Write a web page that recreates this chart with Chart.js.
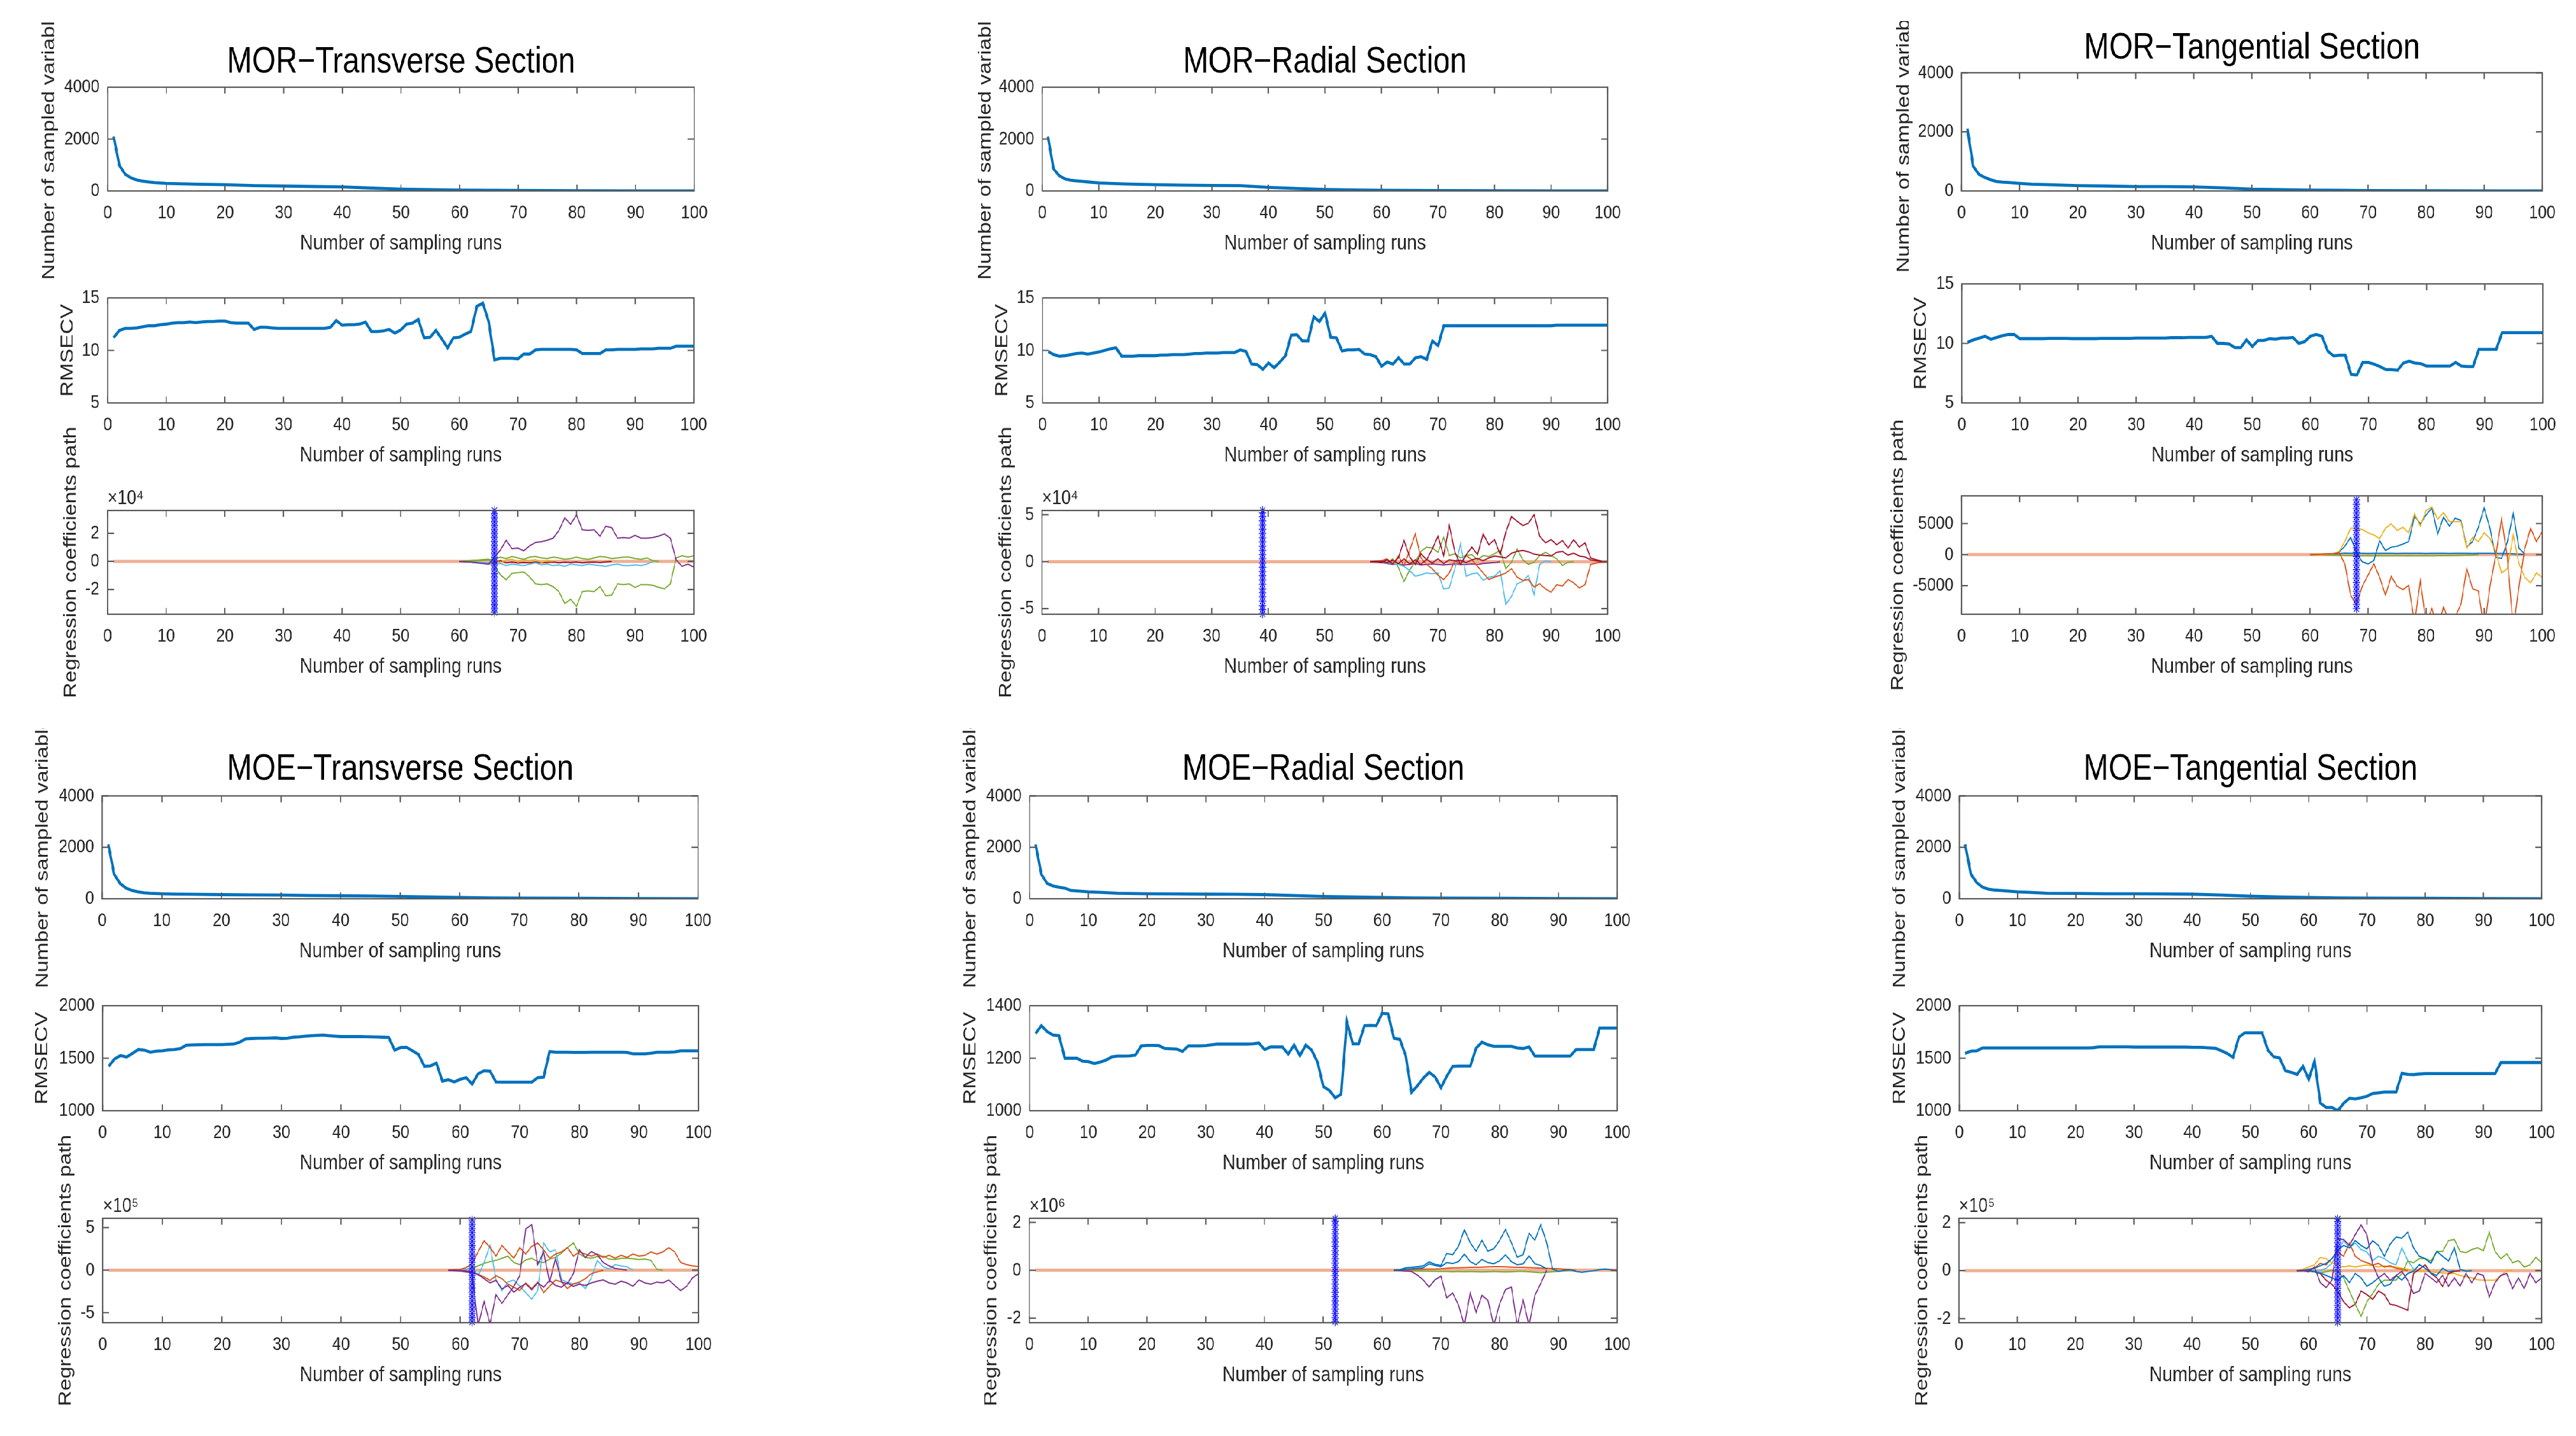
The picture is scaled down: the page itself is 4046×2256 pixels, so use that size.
<!DOCTYPE html>
<html>
<head>
<meta charset="utf-8">
<title>CARS sampling runs - MOR and MOE</title>
<script src="https://cdn.jsdelivr.net/npm/chart.js@4/dist/chart.umd.min.js"></script>
<style>
  html, body { margin: 0; padding: 0; background: #ffffff; overflow: hidden; }
  /* the source figure is squeezed horizontally, so the whole page is drawn wider and squeezed back */
  #figure { position: absolute; left: 0; top: 0; width: 4846px; height: 2256px; transform: scaleX(0.835); transform-origin: 0 0; }
  #figure canvas { position: absolute; }
</style>
</head>
<body>
<div id="figure"></div>
<script>
'use strict';

// Data ********** //
const runs = Array.from({ length: 100 }, (_, i) => i + 1);
const xTicks = [0, 10, 20, 30, 40, 50, 60, 70, 80, 90, 100];

// number of sampled variables (read at these runs)
const sampledRuns = [1, 2, 3, 4, 5, 6, 7, 8, 10, 12, 15, 20, 25, 30, 35, 40, 45, 50, 55, 60, 65, 70, 80, 90, 100];
const sampledTicks = [0, 2000, 4000];
const morTransSampled = [2100, 980, 640, 500, 420, 380, 345, 320, 293, 280, 262, 241, 205, 190, 172, 155, 110, 69, 50, 34, 25, 18, 10, 5, 2];
const morRadSampled = [2100, 850, 590, 465, 414, 390, 370, 350, 310, 290, 268, 241, 225, 212, 205, 140, 95, 55, 40, 30, 22, 16, 9, 5, 2];
const morTanSampled = [2105, 833, 560, 455, 380, 320, 300, 288, 258, 227, 212, 182, 167, 150, 150, 136, 106, 60, 45, 30, 22, 15, 8, 4, 2];
const moeTransSampled = [2117, 950, 592, 413, 323, 270, 233, 215, 197, 185, 178, 161, 152, 143, 126, 117, 108, 90, 72, 54, 36, 27, 18, 9, 2];
const moeRadSampled = [2117, 950, 592, 500, 448, 413, 323, 305, 270, 251, 215, 197, 188, 180, 178, 161, 126, 90, 72, 54, 36, 27, 18, 9, 2];
const moeTanSampled = [2117, 950, 628, 448, 377, 340, 323, 305, 270, 251, 215, 206, 197, 195, 188, 180, 143, 99, 72, 54, 36, 27, 18, 9, 2];

// RMSECV for runs 1..100
const morRmsecvTicks = [5, 10, 15];
const morRmsecvRange = [5, 15];
const moeRmsecvTicks = [1000, 1500, 2000];
const moeRmsecvRange = [1000, 2000];
const moeRadRmsecvTicks = [1000, 1200, 1400];
const moeRadRmsecvRange = [1000, 1400];

const morTransRmsecv = [
  11.2, 11.9, 12.1, 12.1, 12.15, 12.25, 12.35, 12.35, 12.45, 12.5,
  12.6, 12.65, 12.65, 12.7, 12.65, 12.7, 12.75, 12.75, 12.8, 12.8,
  12.65, 12.6, 12.6, 12.6, 12.0, 12.2, 12.2, 12.15, 12.1, 12.1,
  12.1, 12.1, 12.1, 12.1, 12.1, 12.1, 12.1, 12.2, 12.85, 12.4,
  12.45, 12.45, 12.5, 12.7, 11.8, 11.8, 11.85, 12.0, 11.65, 11.95,
  12.5, 12.6, 12.95, 11.2, 11.25, 11.9, 11.1, 10.25, 11.2, 11.25,
  11.55, 11.8, 14.2, 14.5, 12.75, 9.1, 9.25, 9.25, 9.25, 9.2,
  9.65, 9.65, 10.05, 10.1, 10.1, 10.1, 10.1, 10.1, 10.1, 10.05,
  9.7, 9.7, 9.7, 9.7, 10.05, 10.05, 10.1, 10.1, 10.1, 10.1,
  10.15, 10.15, 10.15, 10.2, 10.2, 10.2, 10.4, 10.4, 10.4, 10.4
];
const morRadRmsecv = [
  9.9, 9.6, 9.45, 9.5, 9.6, 9.7, 9.75, 9.65, 9.75, 9.85,
  10.0, 10.15, 10.25, 9.45, 9.45, 9.45, 9.5, 9.5, 9.5, 9.5,
  9.55, 9.55, 9.6, 9.6, 9.6, 9.65, 9.7, 9.7, 9.75, 9.75,
  9.75, 9.8, 9.8, 9.8, 10.05, 9.9, 8.7, 8.65, 8.2, 8.8,
  8.35, 8.9, 9.5, 11.45, 11.5, 10.9, 10.9, 13.2, 12.75, 13.55,
  11.25, 11.2, 9.95, 10.05, 10.05, 10.1, 9.65, 9.6, 9.4, 8.5,
  8.9, 8.7, 9.3, 8.7, 8.7, 9.3, 9.4, 9.15, 10.9, 10.45,
  12.35, 12.35, 12.35, 12.35, 12.35, 12.35, 12.35, 12.35, 12.35, 12.35,
  12.35, 12.35, 12.35, 12.35, 12.35, 12.35, 12.35, 12.35, 12.35, 12.35,
  12.4, 12.4, 12.4, 12.4, 12.4, 12.4, 12.4, 12.4, 12.4, 12.4
];
const morTanRmsecv = [
  10.1, 10.3, 10.45, 10.6, 10.35, 10.5, 10.65, 10.75, 10.75, 10.4,
  10.4, 10.4, 10.4, 10.4, 10.42, 10.42, 10.42, 10.42, 10.4, 10.4,
  10.4, 10.4, 10.4, 10.42, 10.42, 10.42, 10.42, 10.42, 10.42, 10.45,
  10.45, 10.45, 10.45, 10.45, 10.45, 10.48, 10.48, 10.48, 10.5, 10.5,
  10.5, 10.5, 10.6, 10.0, 10.0, 9.95, 9.65, 9.65, 10.3, 9.75,
  10.25, 10.25, 10.4, 10.35, 10.45, 10.45, 10.5, 10.0, 10.15, 10.6,
  10.75, 10.6, 9.35, 8.95, 9.0, 9.0, 7.4, 7.35, 8.4, 8.4,
  8.25, 8.05, 7.8, 7.8, 7.75, 8.35, 8.5, 8.35, 8.3, 8.1,
  8.1, 8.1, 8.1, 8.1, 8.4, 8.1, 8.05, 8.05, 9.5, 9.5,
  9.5, 9.5, 10.9, 10.9, 10.9, 10.9, 10.9, 10.9, 10.9, 10.9
];
const moeTransRmsecv = [
  1423, 1494, 1526, 1511, 1546, 1583, 1577, 1557, 1567, 1571,
  1580, 1583, 1592, 1623, 1627, 1628, 1629, 1629, 1630, 1630,
  1632, 1635, 1653, 1684, 1688, 1690, 1690, 1692, 1694, 1688,
  1690, 1700, 1704, 1710, 1715, 1718, 1720, 1715, 1710, 1706,
  1706, 1706, 1706, 1705, 1704, 1702, 1700, 1698, 1577, 1602,
  1604, 1571, 1536, 1423, 1427, 1454, 1282, 1295, 1274, 1299,
  1315, 1254, 1351, 1381, 1377, 1274, 1272, 1272, 1272, 1272,
  1272, 1272, 1315, 1320, 1563, 1557, 1557, 1557, 1555, 1555,
  1555, 1557, 1557, 1557, 1557, 1557, 1557, 1555, 1542, 1542,
  1542, 1548, 1557, 1557, 1557, 1560, 1571, 1571, 1571, 1571
];
const moeRadRmsecv = [
  1294, 1324, 1301, 1288, 1286, 1200, 1200, 1200, 1189, 1187,
  1180, 1185, 1193, 1205, 1208, 1208, 1209, 1212, 1247, 1249,
  1249, 1248, 1237, 1236, 1235, 1226, 1247, 1247, 1247, 1248,
  1251, 1254, 1254, 1254, 1254, 1254, 1254, 1255, 1258, 1233,
  1243, 1243, 1243, 1216, 1250, 1210, 1250, 1231, 1185, 1092,
  1078, 1049, 1063, 1338, 1255, 1255, 1324, 1325, 1324, 1371,
  1369, 1276, 1272, 1210, 1070, 1095, 1124, 1146, 1129, 1088,
  1132, 1169, 1170, 1170, 1170, 1239, 1261, 1251, 1245, 1245,
  1245, 1245, 1239, 1237, 1243, 1208, 1208, 1208, 1208, 1208,
  1208, 1208, 1233, 1233, 1233, 1233, 1315, 1315, 1315, 1315
];
const moeTanRmsecv = [
  1546, 1567, 1571, 1598, 1598, 1598, 1598, 1598, 1598, 1598,
  1598, 1598, 1598, 1598, 1598, 1598, 1598, 1598, 1598, 1598,
  1598, 1598, 1600, 1608, 1608, 1608, 1608, 1608, 1608, 1606,
  1606, 1606, 1606, 1606, 1606, 1606, 1606, 1606, 1606, 1604,
  1604, 1602, 1598, 1594, 1571, 1546, 1509, 1700, 1742, 1742,
  1742, 1742, 1577, 1513, 1503, 1381, 1365, 1346, 1423, 1299,
  1472, 1072, 1031, 1031, 1000, 1072, 1119, 1113, 1124, 1138,
  1165, 1171, 1178, 1178, 1178, 1356, 1346, 1344, 1350, 1354,
  1354, 1354, 1354, 1354, 1354, 1354, 1354, 1354, 1354, 1354,
  1354, 1354, 1459, 1459, 1459, 1459, 1459, 1459, 1459, 1459
];

// regression coefficient paths (flat at zero before the start run)
const zeroPathRuns = [1, 100];
const zeroPathValues = [0, 0];

// MOR transverse, x10^4, runs from 60
const morTransCoefTicks = [-2, 0, 2];
const morTransCoefRange = [-3.76, 3.62];
const morTransBest = 66;
const morTransStars = [-3.62, -3.35, -3.08, -2.8, -2.52, -2.25, -1.97, -1.7, -1.4, -1.12, -0.85, -0.55, -0.28, 0.02, 0.3, 0.58, 0.86, 1.15, 1.42, 1.7, 1.98, 2.26, 2.55, 2.82, 3.1, 3.4, 3.62];
const morTransPathStart = 60;
const morTransPurple = [0, -0.02, -0.05, -0.1, -0.15, -0.2, 0.3, 0.8, 1.5, 0.9, 0.95, 0.75, 1.1, 1.35, 1.4, 1.5, 1.65, 2.2, 3.1, 2.65, 3.3, 2.25, 2.2, 2.25, 1.8, 2.5, 2.4, 1.65, 1.7, 1.65, 1.85, 1.65, 1.65, 1.7, 1.8, 1.95, 1.65, 0.1, -0.35, -0.2, -0.4];
const morTransGreen = [0, 0.02, 0.05, 0.08, 0.12, 0.15, -0.3, -0.95, -1.3, -0.85, -0.8, -0.75, -1.1, -1.6, -1.65, -1.6, -1.8, -2.15, -3.0, -2.7, -3.2, -2.15, -2.1, -2.15, -1.8, -2.45, -2.4, -1.6, -1.65, -1.6, -1.85, -1.65, -1.65, -1.7, -1.85, -1.95, -1.6, 0.25, 0.4, 0.3, 0.4];
const morTransGreen2 = [0, 0.02, 0.04, 0.06, 0.08, 0.1, 0.15, 0.3, 0.2, 0.35, 0.25, 0.15, 0.3, 0.35, 0.25, 0.2, 0.3, 0.25, 0.15, 0.2, 0.3, 0.2, 0.15, 0.25, 0.35, 0.3, 0.2, 0.25, 0.3, 0.3, 0.2, 0.15, 0.25, 0.05, 0];
const morTransCyan = [0, -0.02, -0.04, -0.06, -0.08, -0.1, -0.2, -0.15, -0.3, -0.2, -0.25, -0.3, -0.2, -0.1, -0.25, -0.2, -0.3, -0.25, -0.35, -0.2, -0.25, -0.3, -0.2, -0.25, -0.3, -0.35, -0.25, -0.2, -0.3, -0.3, -0.25, -0.3, -0.2, 0];
const morTransYellow = [0, 0.02, 0.05, 0.08, 0.12, 0.15, 0.1, -0.1, 0.1, 0.15, -0.05, 0.1, 0.05, 0.12, -0.08, 0.05, 0];
const morTransRed = [0, -0.02, -0.05, -0.08, -0.12, -0.18, -0.1, 0.05, -0.1, -0.05, -0.12, -0.08, -0.1, -0.05, -0.1, -0.08, -0.05, -0.1, -0.06, -0.08, -0.05, -0.1, -0.06, -0.05, -0.08, -0.04, 0];

// MOR radial, x10^4, runs from 58
const morRadCoefTicks = [-5, 0, 5];
const morRadCoefRange = [-5.6, 5.45];
const morRadBest = 39;
const morRadStars = [-5.55, -5.1, -4.7, -4.2, -3.75, -3.3, -2.9, -2.4, -1.95, -1.5, -1.05, -0.6, -0.15, 0.3, 0.75, 1.2, 1.65, 2.1, 2.55, 3.0, 3.45, 3.9, 4.35, 4.8, 5.2, 5.45];
const morRadPathStart = 58;
const morRadRed = [0, 0.05, -0.1, 0.2, -0.2, 0.4, 2.25, 0.5, -0.3, 0.85, 0.2, 1.35, 2.7, 0.65, 3.85, 1.0, -0.3, 0.75, 1.55, 0.75, 2.95, 1.8, 2.35, 0.75, 3.15, 4.8, 4.3, 3.85, 4.1, 5.0, 2.7, 2.0, 2.35, 1.8, 2.25, 1.45, 2.35, 1.55, 2.0, 0.4, 0.2, 0.05, 0];
const morRadRed2 = [0, 0, 0.05, -0.1, 0.15, -0.2, 0.3, -0.25, 0.2, -0.3, 0.25, -0.15, 0.3, -0.2, 0.2, 0.1, 0.15, -0.1, 0.2, 0.35, 0.1, 0.4, 0.6, 0.5, 0.4, 0.9, 1.1, 1.2, 1.05, 0.8, 0.7, 0.65, 0.6, 1.0, 1.1, 0.7, 0.9, 0.6, 0.5, 0.2, 0.1, 0, 0];
const morRadOrange = [0, 0.05, 0.1, 0.3, -0.3, 0.6, -0.4, 1.2, 2.95, 0.4, -0.3, -0.75, -1.45, -1.9, -1.2, 0.1, -0.3, 0.65, 0.2, -0.5, -1.2, -1.9, -1.65, -1.45, -1.2, -0.75, -1.65, -2.0, -1.9, -2.7, -2.35, -2.9, -3.25, -2.45, -2.6, -1.9, -2.25, -2.8, -2.45, -0.3, -0.15, -0.05, 0];
const morRadCyan = [0, 0, -0.05, -0.1, -0.2, -0.3, -0.5, -0.95, -1.55, -1.4, -1.2, -1.3, -1.2, -2.9, -2.8, -0.7, 1.9, -1.55, -1.3, -1.2, -2.0, -1.65, -1.55, -0.95, -4.55, -3.7, -2.35, -2.1, -1.45, -3.5, -0.3, 0.1, 0];
const morRadGreen = [0, 0.05, 0.1, -0.2, 0.3, -0.6, -2.1, -0.9, 0, 1.1, 1.55, 1.45, 1.0, 2.6, 0.65, 0.85, 0.4, 0.65, 0.75, 0.2, 0.65, 0.55, 0.85, 1.2, -0.75, -0.05, 1.35, 0.2, -0.3, -0.05, 0.65, 1.0, 0.65, 0.3, -0.4, -0.05, 0];
const morRadPurple = [0, -0.05, -0.1, -0.2, -0.3, -0.25, -0.35, -0.3, -0.2, -0.35, -0.3, -0.25, -0.3, -0.35, -0.3, -0.25, -0.3, -0.3, -0.25, -0.3, -0.2, -0.15, -0.1, 0];

// MOR tangential, plain units, runs from 60
const morTanCoefTicks = [-5000, 0, 5000];
const morTanCoefRange = [-9600, 9460];
const morTanBest = 68;
const morTanStars = [-8700, -8000, -7300, -6600, -5900, -5200, -4500, -3800, -3100, -2400, -1700, -1000, -300, 400, 1100, 1800, 2500, 3200, 3900, 4600, 5300, 6000, 6700, 7400, 8100, 8800];
const morTanPathStart = 60;
const morTanOrange = [0, 30, 60, 100, 150, 300, -1500, -6550, -8000, -5100, -3300, -1500, -3650, -6550, -3500, -5100, -5650, -4950, -11000, -4200, -11000, -8700, -12000, -8350, -11000, -10000, -8000, -2250, -5500, -5850, -12000, -5100, -100, 5700, -450, -12000, -5100, 1000, 4250, 2100, 3700];
const morTanYellow = [0, -20, -40, 50, 100, 500, 2100, 4250, 4250, 4050, 3500, 3150, 2600, 4250, 4950, 3900, 4400, 3500, 6600, 4600, 7100, 7650, 5700, 6800, 5300, 5300, 5300, 1000, 2800, 2100, 3500, 2600, 450, -2950, -2250, 3150, -1500, -3650, -4550, -2950, -3650];
const morTanBlue = [0, 20, 40, 80, 150, 400, 1350, 2800, 300, -1150, -1500, -950, 2250, 650, 1200, 1350, 1700, 2100, 6200, 4950, 6400, 7500, 3350, 6050, 4600, 5850, 5500, 1200, 2100, 4400, 7500, 4250, -450, -600, 2100, 6600, 1000, 100];
const morTanBlue2 = [0, 10, 30, 60, 100, 150, 250, 220, 200, 210, 190, 200, 220, 210, 200, 190, 210, 200, 220, 200, 190, 210, 200, 200, 190, 210, 220, 200, 190, 200, 210, 200, 190, 180, 150, 100, 50, 0];
const morTanGreen = [0, -20, -40, -60, -90, -120, -150, -180, -200, -190, -210, -200, -180, -200, -210, -190, -200, -180, -200, -210, -190, -200, -180, -170, -160, -150, -120, -80, -40, 0];

// MOE transverse, x10^5, runs from 58
const moeTransCoefTicks = [-5, 0, 5];
const moeTransCoefRange = [-6.18, 6.1];
const moeTransBest = 62;
const moeTransStars = [-6.1, -5.6, -5.1, -4.6, -4.1, -3.6, -3.1, -2.6, -2.1, -1.6, -1.1, -0.6, -0.1, 0.4, 0.9, 1.4, 1.9, 2.4, 2.9, 3.4, 3.9, 4.4, 4.9, 5.4, 5.9];
const moeTransPathStart = 58;
const moeTransPurple = [0, -0.05, -0.1, -0.2, -0.3, -6.5, -3.7, -6.3, -2.9, -3.9, -2.9, -1.9, -0.65, 4.85, 5.35, 0.65, 2.15, -1.4, 1.4, -1.4, -1.6, -0.4, 2.4, 1.5, 2.2, 1.8, 0.9, 0.5, 0.2, 0.1, 0];
const moeTransPurple2 = [0, 0, -0.05, -0.1, -0.2, -0.5, -1.0, -1.5, -1.2, -2.2, -1.8, -2.6, -2.0, -1.6, -2.3, -1.5, -2.0, -1.2, -1.8, -2.0, -1.5, -1.9, -1.65, -1.8, -1.5, -1.3, -1.15, -1.5, -1.65, -1.3, -1.5, -1.9, -1.15, -1.5, -1.65, -1.4, -1.5, -1.15, -1.8, -2.4, -1.9, -0.9, -0.4];
const moeTransOrange = [0, 0.05, 0.1, 0.3, 0.8, 2.15, 3.45, 2.7, 1.65, 2.9, 2.15, 1.4, 2.65, 1.9, 2.8, 3.2, 2.4, 1.4, 1.9, 2.15, 2.65, 1.65, 2.15, 1.9, 1.65, 1.9, 1.5, 1.75, 1.4, 1.75, 1.5, 1.9, 1.65, 1.75, 2.15, 1.9, 2.15, 2.65, 2.15, 0.9, 0.65, 0.5, 0.4];
const moeTransOrange2 = [0, 0, -0.05, -0.1, -0.3, -0.5, -0.8, -1.2, -0.65, -1.0, -1.65, -2.0, -2.4, -1.5, -2.15, -1.4, -2.65, -1.9, -1.15, -1.4, -2.15, -1.6, -1.4, -1.0, -0.4, -0.2, 0];
const moeTransCyan = [0, 0, 0.05, 0.1, 0.3, -0.65, 0.9, 2.9, -1.15, -2.4, -1.4, -1.15, -1.9, -2.65, -3.4, -2.4, 3.2, 2.15, 2.4, -1.15, -1.4, -1.65, -1.5, -2.15, -0.9, 1.15, 0.4, 0.15, 0.65, 0.5, 0.4, 0];
const moeTransGreen = [0, 0, 0.05, 0.1, 0.2, 0.5, 0.8, 1.0, 1.15, 1.4, 1.65, 0.9, 0.65, 1.2, 1.4, 1.0, 0.9, 1.3, 1.5, 2.0, 2.65, 3.2, 1.9, 1.5, 1.4, 1.6, 1.65, 1.3, 1.25, 1.4, 1.4, 1.35, 1.25, 1.3, 1.15, 0.1, 0];

// MOE radial, x10^6, runs from 62
const moeRadCoefTicks = [-2, 0, 2];
const moeRadCoefRange = [-2.19, 2.17];
const moeRadBest = 52;
const moeRadStars = [-2.15, -1.98, -1.8, -1.62, -1.45, -1.28, -1.1, -0.92, -0.75, -0.58, -0.4, -0.22, -0.05, 0.12, 0.3, 0.48, 0.65, 0.82, 1.0, 1.18, 1.35, 1.52, 1.7, 1.88, 2.05, 2.15];
const moeRadPathStart = 62;
const moeRadBlue = [0, 0.02, 0.1, 0.12, 0.15, 0.18, 0.35, 0.25, 0.2, 0.7, 0.65, 1.0, 1.7, 1.15, 0.8, 1.25, 0.8, 0.9, 1.25, 1.7, 1.15, 0.55, 0.65, 1.55, 1.25, 1.9, 1.15, 0.05, -0.05, 0, 0.02, -0.05, -0.08, -0.05, -0.02, 0.03, 0.05, 0.02, -0.03];
const moeRadBlue2 = [0, 0.01, 0.05, 0.06, 0.08, 0.1, 0.27, 0.2, 0.15, 0.32, 0.28, 0.36, 0.68, 0.36, 0.23, 0.45, 0.32, 0.27, 0.4, 0.64, 0.36, 0.23, 0.27, 0.6, 0.27, 0.2, 0.05];
const moeRadPurple = [0, -0.01, -0.03, -0.05, -0.2, -0.4, -0.7, -0.4, -0.25, -1.15, -0.95, -1.45, -2.3, -0.95, -1.75, -1.05, -1.25, -2.3, -1.4, -0.8, -0.7, -2.3, -1.25, -2.3, -1.05, -0.55, 0];
const moeRadOrange = [0, 0.01, 0.02, 0.03, 0.03, 0.04, 0.05, 0.05, 0.06, 0.08, 0.1, 0.1, 0.11, 0.12, 0.12, 0.13, 0.14, 0.15, 0.15, 0.14, 0.13, 0.12, 0.12, 0.11, 0.1, 0.09, 0.08, 0.07, 0.06, 0.04, 0.02, 0];
const moeRadGreen = [0, -0.01, -0.02, -0.02, -0.03, -0.03, -0.04, -0.04, -0.05, -0.05, -0.06, -0.05, -0.06, -0.05, -0.06, -0.07, -0.06, -0.05, -0.06, -0.07, -0.06, -0.05, -0.05, -0.06, -0.08, -0.1, -0.08, -0.06, -0.04, -0.02, 0];

// MOE tangential, x10^5, runs from 58
const moeTanCoefTicks = [-2, 0, 2];
const moeTanCoefRange = [-2.17, 2.18];
const moeTanBest = 65;
const moeTanStars = [-2.15, -1.97, -1.8, -1.63, -1.45, -1.27, -1.1, -0.93, -0.75, -0.57, -0.4, -0.23, -0.05, 0.13, 0.3, 0.47, 0.65, 0.83, 1.0, 1.17, 1.35, 1.53, 1.7, 1.87, 2.05, 2.15];
const moeTanPathStart = 58;
const moeTanPurple = [0, 0.02, -0.05, 0.15, -0.5, -0.7, -0.4, 1.3, 1.3, 1.05, 1.5, 1.9, 1.5, 0.25, -0.3, -0.12, -0.4, -0.2, -0.03, -0.4, -0.95, -0.85, -0.12, -0.3, -0.5, -0.2, -0.65, -0.3, -0.65, -0.12, -0.5, -0.12, -0.2, -1.1, -0.5, -0.2, -0.12, -0.75, -0.3, -0.75, -0.12, -0.5, -0.3];
const moeTanBlue = [0, 0, 0.05, 0.1, 0.2, 0.3, 0.5, 0.85, 1.05, 0.95, 1.25, 1.05, 0.9, 1.25, 1.05, 0.6, 1.1, 1.4, 1.35, 1.6, 0.95, 0.6, 0.5, 0.3, 0.8, 0.6, 0.4, 0.95, 0.05, -0.02, 0];
const moeTanBlue2 = [0, 0, 0, -0.05, -0.1, -0.2, -0.3, -0.4, -0.2, -0.5, -0.12, -0.3, -0.65, -0.5, -0.3, -0.65, -0.57, -0.2, -0.4, -0.12, -0.03, 0.25, 0.1, -0.1, -0.2, 0.1, -0.05, 0];
const moeTanGreen = [0, 0, -0.02, -0.05, -0.1, -0.05, 0.02, 0, -0.3, -0.85, -1.4, -1.9, -1.3, -0.95, -0.57, -0.4, -0.4, -0.4, -0.12, 0.4, 0.33, 0.5, 0.5, 0.4, 0.8, 0.8, 1.25, 1.3, 0.8, 0.75, 0.88, 0.95, 0.83, 1.6, 0.8, 0.5, 0.7, 0.33, 0.42, 0.15, 0.24, 0.55, 0.33];
const moeTanRed = [0, 0, 0.02, -0.05, -0.12, -0.4, -0.57, -0.85, -1.3, -1.55, -1.4, -0.85, -1.0, -1.2, -0.85, -1.0, -1.4, -1.45, -1.55, -1.65, -0.12, 0.06, 0.24, -0.12, -0.3, -0.66, -0.12, -0.03, 0];
const moeTanOrange = [0, 0.02, 0.05, 0.1, 0.3, 0.24, 0.5, 0.78, 0.6, 1.15, 0.6, 0.42, 0.33, 0.24, 0.3, 0.15, 0.2, 0.1, 0.05, 0];
const moeTanYellow = [0, 0.05, 0.15, 0.24, 0.55, 0.5, 0.33, 0.24, 0.15, 0.2, 0.15, 0.2, 0.24, 0.2, 0.15, 0.2, 0.15, 0.15, 0.1, 0.05, 0, -0.02, -0.03, -0.05, -0.08, -0.1, -0.12, -0.12, -0.2, -0.25, -0.3, -0.38, -0.4, -0.4, -0.4, -0.2, 0, 0.02];
const moeTanCyan = [0, 0, 0, 0, 0, 0.1, 0.3, 0.8, 1.25, 0.95, 1.15, 0.88, 0.78, 0.42, 0.6, 0.5, 0.33, 0.24, 0.95, 0.42, 0.06, 0];

// Styles********** //
const SQUEEZE = 0.835;
const FONT = "'Liberation Sans', Arial, Helvetica, sans-serif";
const TEXT_COLOR = '#262626';
const AXIS_COLOR = '#5a5a5a';
const LINE_BLUE = '#0072BD';
const BLUE = '#0072BD';
const ORANGE = '#D95319';
const YELLOW = '#EDB120';
const PURPLE = '#7E2F8E';
const GREEN = '#77AC30';
const CYAN = '#4DBEEE';
const DARKRED = '#A2142F';

// plot boxes, in page pixels (x before the squeeze is undone)
const ROW_A = [[137, 299.5], [467.5, 632], [801.5, 964.5]];
const ROW_C = [[114.3, 299.5], [446, 632.5], [779, 965]];
const ROW_B = [[1250.4, 1412], [1580, 1744.5], [1913.5, 2077]];

const panels = [
  {
    title: 'MOR\u2212Transverse Section', sampled: morTransSampled,
    rmsecv: morTransRmsecv, rmsecvTicks: morRmsecvTicks, rmsecvRange: morRmsecvRange,
    coefTicks: morTransCoefTicks, coefRange: morTransCoefRange, multiplier: '\u00d710\u2074',
    best: morTransBest, stars: morTransStars, pathStart: morTransPathStart,
    paths: [[morTransPurple, PURPLE], [morTransGreen, GREEN], [morTransGreen2, GREEN], [morTransCyan, CYAN], [morTransYellow, YELLOW], [morTransRed, DARKRED]],
    box: { left: 169, right: 1090, clip: 33, titleY: 98.5, rows: ROW_A, labelX: [77, 106.3, 111.5] }
  },
  {
    title: 'MOR\u2212Radial Section', sampled: morRadSampled,
    rmsecv: morRadRmsecv, rmsecvTicks: morRmsecvTicks, rmsecvRange: morRmsecvRange,
    coefTicks: morRadCoefTicks, coefRange: morRadCoefRange, multiplier: '\u00d710\u2074',
    best: morRadBest, stars: morRadStars, pathStart: morRadPathStart,
    paths: [[morRadRed, DARKRED], [morRadRed2, DARKRED], [morRadOrange, ORANGE], [morRadCyan, CYAN], [morRadGreen, GREEN], [morRadPurple, PURPLE]],
    box: { left: 1637, right: 2525, clip: 33, titleY: 98.5, rows: ROW_A, labelX: [1547.5, 1573.9, 1580.5] }
  },
  {
    title: 'MOR\u2212Tangential Section', sampled: morTanSampled,
    rmsecv: morTanRmsecv, rmsecvTicks: morRmsecvTicks, rmsecvRange: morRmsecvRange,
    coefTicks: morTanCoefTicks, coefRange: morTanCoefRange, multiplier: null,
    best: morTanBest, stars: morTanStars, pathStart: morTanPathStart,
    paths: [[morTanOrange, ORANGE], [morTanYellow, YELLOW], [morTanBlue, BLUE], [morTanBlue2, BLUE], [morTanGreen, GREEN]],
    box: { left: 3081, right: 3993, clip: 33, titleY: 76, rows: ROW_C, labelX: [2990.5, 3016.8, 2981.2] }
  },
  {
    title: 'MOE\u2212Transverse Section', sampled: moeTransSampled,
    rmsecv: moeTransRmsecv, rmsecvTicks: moeRmsecvTicks, rmsecvRange: moeRmsecvRange,
    coefTicks: moeTransCoefTicks, coefRange: moeTransCoefRange, multiplier: '\u00d710\u2075',
    best: moeTransBest, stars: moeTransStars, pathStart: moeTransPathStart,
    paths: [[moeTransPurple, PURPLE], [moeTransPurple2, PURPLE], [moeTransOrange, ORANGE], [moeTransOrange2, ORANGE], [moeTransCyan, CYAN], [moeTransGreen, GREEN]],
    box: { left: 161, right: 1097, clip: 1144, titleY: 1209.5, rows: ROW_B, labelX: [67.5, 66, 102.7] }
  },
  {
    title: 'MOE\u2212Radial Section', sampled: moeRadSampled,
    rmsecv: moeRadRmsecv, rmsecvTicks: moeRadRmsecvTicks, rmsecvRange: moeRadRmsecvRange,
    coefTicks: moeRadCoefTicks, coefRange: moeRadCoefRange, multiplier: '\u00d710\u2076',
    best: moeRadBest, stars: moeRadStars, pathStart: moeRadPathStart,
    paths: [[moeRadBlue, BLUE], [moeRadBlue2, BLUE], [moeRadPurple, PURPLE], [moeRadOrange, ORANGE], [moeRadGreen, GREEN]],
    box: { left: 1617, right: 2540, clip: 1144, titleY: 1209.5, rows: ROW_B, labelX: [1524, 1524, 1557] }
  },
  {
    title: 'MOE\u2212Tangential Section', sampled: moeTanSampled,
    rmsecv: moeTanRmsecv, rmsecvTicks: moeRmsecvTicks, rmsecvRange: moeRmsecvRange,
    coefTicks: moeTanCoefTicks, coefRange: moeTanCoefRange, multiplier: '\u00d710\u2075',
    best: moeTanBest, stars: moeTanStars, pathStart: moeTanPathStart,
    paths: [[moeTanPurple, PURPLE], [moeTanBlue, BLUE], [moeTanBlue2, BLUE], [moeTanGreen, GREEN], [moeTanRed, DARKRED], [moeTanOrange, ORANGE], [moeTanYellow, YELLOW], [moeTanCyan, CYAN]],
    box: { left: 3077, right: 3992, clip: 1144, titleY: 1209.5, rows: ROW_B, labelX: [2983.4, 2983.4, 3019] }
  }
];

// Helpers********** //
const figure = document.getElementById('figure');

function ux(x) {
  return x / SQUEEZE;
}

function lineData(xs, ys) {
  return ys.map((v, i) => ({ x: xs[i], y: v }));
}

function pathData(start, ys) {
  return ys.map((v, i) => ({ x: start + i, y: v }));
}

// MATLAB style box with inward tick marks on all four sides
const matlabBox = {
  id: 'matlabBox',
  afterDatasetsDraw(chart) {
    const { ctx, chartArea: a, scales } = chart;
    const tick = 10;
    ctx.save();
    ctx.strokeStyle = AXIS_COLOR;
    ctx.lineWidth = 2.2;
    ctx.beginPath();
    scales.x.ticks.forEach(t => {
      const px = scales.x.getPixelForValue(t.value);
      ctx.moveTo(px, a.bottom);
      ctx.lineTo(px, a.bottom - tick);
      ctx.moveTo(px, a.top);
      ctx.lineTo(px, a.top + tick);
    });
    scales.y.ticks.forEach(t => {
      const py = scales.y.getPixelForValue(t.value);
      ctx.moveTo(a.left, py);
      ctx.lineTo(a.left + ux(tick), py);
      ctx.moveTo(a.right, py);
      ctx.lineTo(a.right - ux(tick), py);
    });
    ctx.stroke();
    ctx.strokeRect(a.left, a.top, a.right - a.left, a.bottom - a.top);
    ctx.restore();
  }
};

function drawSubplot(s) {
  const left = ux(s.left);
  const right = ux(s.right);
  const cx = ux(s.labelX) - 24.4; // y title centre sits 24.4px into the canvas
  const width = Math.round(right + 45 - cx);
  const height = Math.round(s.bottom + s.below - s.cy);

  const plugins = { legend: { display: false }, tooltip: { enabled: false } };
  let boxes = 0;
  if (s.title) {
    const pad = s.top - s.titleY - 34.2;
    plugins.title = {
      display: true, text: s.title, fullSize: false, color: '#000000',
      font: { family: FONT, size: 57, weight: 'normal', lineHeight: 1.2 },
      padding: { top: 0, bottom: pad }
    };
    boxes = 68.4 + pad;
  }
  if (s.multiplier) {
    plugins.subtitle = {
      display: true, text: s.multiplier, align: 'start', fullSize: false, color: TEXT_COLOR,
      font: { family: FONT, size: 32, weight: 'normal', lineHeight: 1.2 },
      padding: { top: 0, bottom: 0 }
    };
    boxes = 38.4;
  }

  const canvas = document.createElement('canvas');
  canvas.width = width;
  canvas.height = height;
  canvas.style.left = cx + 'px';
  canvas.style.top = s.cy + 'px';
  canvas.style.width = width + 'px';
  canvas.style.height = height + 'px';
  figure.appendChild(canvas);

  new Chart(canvas, {
    type: 'line',
    data: { datasets: s.datasets },
    options: {
      responsive: false,
      animation: false,
      devicePixelRatio: 1,
      events: [],
      layout: { autoPadding: false, padding: { left: 0, right: 45, top: s.top - s.cy - boxes, bottom: s.below - 103 } },
      plugins: plugins,
      elements: { point: { radius: 0 }, line: { tension: 0 } },
      scales: {
        x: {
          type: 'linear', min: 0, max: 100,
          afterBuildTicks: sc => { sc.ticks = xTicks.map(v => ({ value: v })); },
          afterFit: sc => { sc.height = 103; },
          grid: { display: false, drawTicks: false },
          border: { display: false },
          ticks: { color: TEXT_COLOR, font: { family: FONT, size: 30 }, padding: 16.5, autoSkip: false, maxRotation: 0, callback: v => String(v) },
          title: { display: true, text: 'Number of sampling runs', color: TEXT_COLOR, font: { family: FONT, size: 34 }, padding: { top: 0, bottom: 0 } }
        },
        y: {
          type: 'linear', min: s.yMin, max: s.yMax,
          afterBuildTicks: sc => { sc.ticks = s.yTicks.map(v => ({ value: v })); },
          afterFit: sc => { sc.width = left - cx; },
          grid: { display: false, drawTicks: false },
          border: { display: false },
          ticks: { color: TEXT_COLOR, font: { family: FONT, size: 30 }, padding: ux(12.7), callback: v => String(v) },
          title: { display: true, text: s.yLabel, color: TEXT_COLOR, font: { family: FONT, size: 34 }, padding: { top: 4, bottom: 0 } }
        }
      }
    },
    plugins: [matlabBox]
  });
}

// Executable Code********** //
panels.forEach(p => {
  const b = p.box;
  const [top, mid, bot] = b.rows;

  drawSubplot({
    left: b.left, right: b.right, top: top[0], bottom: top[1], labelX: b.labelX[0],
    cy: b.clip, below: 165, title: p.title, titleY: b.titleY,
    yLabel: 'Number of sampled variables', yMin: 0, yMax: 4000, yTicks: sampledTicks,
    datasets: [{ data: lineData(sampledRuns, p.sampled), borderColor: LINE_BLUE, borderWidth: 4.8 }]
  });

  drawSubplot({
    left: b.left, right: b.right, top: mid[0], bottom: mid[1], labelX: b.labelX[1],
    cy: mid[0] - 40, below: 113,
    yLabel: 'RMSECV', yMin: p.rmsecvRange[0], yMax: p.rmsecvRange[1], yTicks: p.rmsecvTicks,
    datasets: [{ data: lineData(runs, p.rmsecv), borderColor: LINE_BLUE, borderWidth: 4.8 }]
  });

  // the blue asterisk column marks the run with the lowest RMSECV
  const coefSets = [{
    data: p.stars.map(v => ({ x: p.best, y: v })),
    borderColor: '#1414FF', borderWidth: 1,
    pointStyle: 'star', pointRadius: 7, pointBorderWidth: 1.3, pointBorderColor: '#1414FF', clip: 10
  }];
  p.paths.forEach(([vals, color]) => {
    coefSets.push({ data: pathData(p.pathStart, vals), borderColor: color, borderWidth: 2, clip: 0 });
  });
  coefSets.push({ data: lineData(zeroPathRuns, zeroPathValues), borderColor: 'rgba(226, 110, 60, 0.55)', borderWidth: 5, clip: 0 });

  drawSubplot({
    left: b.left, right: b.right, top: bot[0], bottom: bot[1], labelX: b.labelX[2],
    cy: bot[0] - 160, below: 170, multiplier: p.multiplier,
    yLabel: 'Regression coefficients path', yMin: p.coefRange[0], yMax: p.coefRange[1], yTicks: p.coefTicks,
    datasets: coefSets
  });
});
</script>
</body>
</html>
